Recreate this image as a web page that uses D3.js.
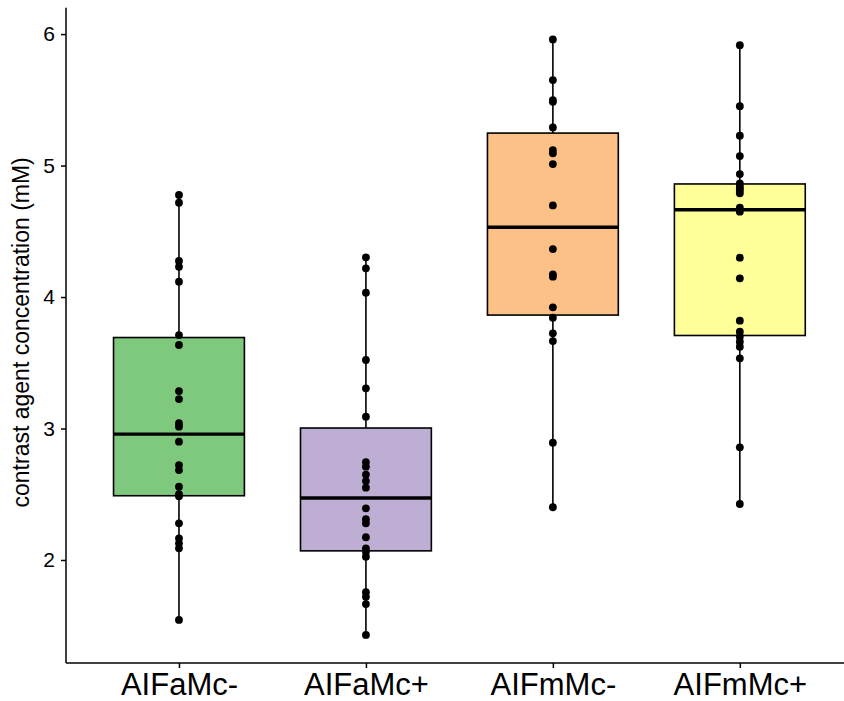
<!DOCTYPE html>
<html>
<head>
<meta charset="utf-8">
<script src="https://cdn.jsdelivr.net/npm/d3@7"></script>
<style>
  html, body { margin: 0; padding: 0; background: #ffffff; }
  svg { display: block; }
  text { font-family: "Liberation Sans", Arial, sans-serif; }
</style>
</head>
<body>
<svg id="chart" width="844" height="701"></svg>
<script>
const categories = ["AIFaMc-", "AIFaMc+", "AIFmMc-", "AIFmMc+"];
const fillColors = ["#7FC97F", "#BEAED4", "#FDC086", "#FFFF99"];

const valuesAIFaMcMinus = [4.776, 4.717, 4.274, 4.230, 4.117, 3.711, 3.635, 3.285, 3.224, 3.040, 3.014,
  2.900, 2.722, 2.684, 2.557, 2.500, 2.485, 2.279, 2.165, 2.127, 2.089, 1.544];
const valuesAIFaMcPlus = [4.302, 4.218, 4.033, 3.521, 3.306, 3.090, 2.745, 2.710, 2.650, 2.600, 2.550,
  2.393, 2.310, 2.279, 2.173, 2.089, 2.063, 2.025, 1.755, 1.720, 1.665, 1.430];
const valuesAIFmMcMinus = [5.959, 5.650, 5.498, 5.485, 5.290, 5.118, 5.093, 5.011, 4.697, 4.365,
  4.173, 4.155, 3.922, 3.843, 3.724, 3.665, 2.892, 2.401];
const valuesAIFmMcPlus = [5.916, 5.452, 5.227, 5.072, 4.935, 4.865, 4.845, 4.827, 4.810, 4.789, 4.679,
  4.649, 4.299, 4.142, 3.820, 3.736, 3.698, 3.660, 3.622, 3.534, 2.857, 2.426];

const yTicks = [2, 3, 4, 5, 6];
const yTitle = "contrast agent concentration (mM)";

const seriesValues = [valuesAIFaMcMinus, valuesAIFaMcPlus, valuesAIFmMcMinus, valuesAIFmMcPlus];

const svg = d3.select("#chart");

const allVals = seriesValues.flat();
const [vmin, vmax] = d3.extent(allVals);
const pad = (vmax - vmin) * 0.05;

const plotLeft = 66, plotBottom = 663;
const y = d3.scaleLinear().domain([vmin - pad, vmax + pad]).range([664.7, 9.7]);
const x = d3.scalePoint().domain(categories).range([66.8, 852]).padding(0.6);
const step = x.step();
const boxW = step * 0.7;

const stats = seriesValues.map((vals, i) => {
  const s = vals.slice().sort(d3.ascending);
  const q1 = d3.quantile(s, 0.25), med = d3.quantile(s, 0.5), q3 = d3.quantile(s, 0.75);
  const iqr = q3 - q1;
  const lo = d3.min(s.filter(v => v >= q1 - 1.5 * iqr));
  const hi = d3.max(s.filter(v => v <= q3 + 1.5 * iqr));
  return { cat: categories[i], color: fillColors[i], q1, med, q3, lo, hi, vals };
});

const g = svg.append("g");

// whiskers
g.selectAll(".whisker-up").data(stats).join("line")
  .attr("x1", d => x(d.cat)).attr("x2", d => x(d.cat))
  .attr("y1", d => y(d.q3)).attr("y2", d => y(d.hi))
  .attr("stroke", "#000").attr("stroke-width", 1.6);
g.selectAll(".whisker-dn").data(stats).join("line")
  .attr("x1", d => x(d.cat)).attr("x2", d => x(d.cat))
  .attr("y1", d => y(d.q1)).attr("y2", d => y(d.lo))
  .attr("stroke", "#000").attr("stroke-width", 1.6);

// boxes
g.selectAll(".box").data(stats).join("rect")
  .attr("x", d => x(d.cat) - boxW / 2)
  .attr("width", boxW)
  .attr("y", d => y(d.q3))
  .attr("height", d => y(d.q1) - y(d.q3))
  .attr("fill", d => d.color)
  .attr("stroke", "#000").attr("stroke-width", 1.6);

// medians
g.selectAll(".median").data(stats).join("line")
  .attr("x1", d => x(d.cat) - boxW / 2).attr("x2", d => x(d.cat) + boxW / 2)
  .attr("y1", d => y(d.med)).attr("y2", d => y(d.med))
  .attr("stroke", "#000").attr("stroke-width", 3.4);

// points
stats.forEach(d => {
  g.selectAll(null).data(d.vals).join("circle")
    .attr("cx", x(d.cat))
    .attr("cy", v => y(v))
    .attr("r", 3.9)
    .attr("fill", "#000");
});

// axes
const yAxis = d3.axisLeft(y).tickValues(yTicks).tickSize(5).tickPadding(6).tickFormat(d3.format("d"));
const yG = svg.append("g").attr("transform", `translate(${plotLeft},0)`).call(yAxis);
yG.select(".domain").attr("d", `M0,${y.range()[1] - 2}V${plotBottom}`).attr("stroke-width", 1.5);
yG.selectAll(".tick line").attr("stroke-width", 1.5);
yG.selectAll(".tick text").attr("font-size", 21).attr("fill", "#000")
  .attr("font-family", "Liberation Sans, Arial, sans-serif");

const xAxis = d3.axisBottom(x).tickSize(5).tickPadding(5);
const xG = svg.append("g").attr("transform", `translate(0,${plotBottom})`).call(xAxis);
xG.select(".domain").attr("d", `M${plotLeft},0H844`).attr("stroke-width", 1.5);
xG.selectAll(".tick line").attr("stroke-width", 1.5);
xG.selectAll(".tick text").attr("font-size", 31).attr("fill", "#000")
  .attr("font-family", "Liberation Sans, Arial, sans-serif");

svg.append("text")
  .attr("transform", `translate(29,${(y.range()[1] + plotBottom) / 2 - 4}) rotate(-90)`)
  .attr("text-anchor", "middle")
  .attr("font-size", 23)
  .attr("fill", "#000")
  .text(yTitle);
</script>
</body>
</html>
